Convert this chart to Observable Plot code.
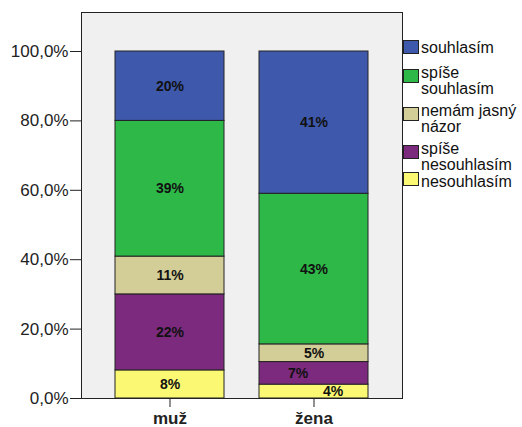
<!DOCTYPE html>
<html><head><meta charset="utf-8">
<script src="https://cdn.jsdelivr.net/npm/d3@7"></script>
<script src="https://cdn.jsdelivr.net/npm/@observablehq/plot@0.6"></script>
<style>
body{margin:0;background:#fff;}
#wrap{position:relative;width:522px;height:427px;font-family:"Liberation Sans",Arial,sans-serif;}
#wrap svg{position:absolute;left:0;top:0;}
.leg{position:absolute;left:421px;font-size:16px;line-height:15px;height:15px;color:#111;white-space:nowrap;}
.sw{position:absolute;left:403px;width:14px;height:12px;border:1px solid #222;}
</style></head><body><div id="wrap"></div>
<script>
// categories (x)
const genders = ["muž", "žena"];
// answers, bottom to top of the stack
const answers = ["nesouhlasím", "spíše nesouhlasím", "nemám jasný názor", "spíše souhlasím", "souhlasím"];
// series values (percent), same order as answers
const muzValues = [8.1, 21.9, 10.9, 39.1, 20.0];
const zenaValues = [4.0, 6.5, 5.1, 43.4, 41.0];
// bar labels
const muzLabels = ["8%", "22%", "11%", "39%", "20%"];
const zenaLabels = ["4%", "7%", "5%", "43%", "41%"];
// y tick values
const yTicks = [0, 0.2, 0.4, 0.6, 0.8, 1.0];
// legend order (top to bottom) and wrapped legend lines
const legendOrder = ["souhlasím", "spíše souhlasím", "nemám jasný názor", "spíše nesouhlasím", "nesouhlasím"];
const legendLines = [["souhlasím"], ["spíše", "souhlasím"], ["nemám jasný", "názor"], ["spíše", "nesouhlasím"], ["nesouhlasím"]];
const colors = ["#fbf873", "#7b2a7e", "#d3ce97", "#2eb848", "#3e58ac"];

const rows = [];
answers.forEach((a, i) => rows.push({gender: genders[0], answer: a, value: muzValues[i] / 100, label: muzLabels[i]}));
answers.forEach((a, i) => rows.push({gender: genders[1], answer: a, value: zenaValues[i] / 100, label: zenaLabels[i]}));

// label horizontal nudges (SPSS avoids overlaps in thin segments)
const nudge = {"žena|spíše nesouhlasím": -16, "žena|nesouhlasím": 19};
const key = d => d.gender + "|" + d.answer;
const textFor = dx => d => ((nudge[key(d)] || 0) === dx ? d.label : "");

const textMark = dx => Plot.text(rows, Plot.stackY({
  x: "gender", y: "value", z: "answer", text: textFor(dx),
  dx, fontSize: 14, fontWeight: "bold", fill: "#111"
}));

const chart = Plot.plot({
  width: 522, height: 427,
  marginLeft: 81, marginRight: 120, marginTop: 12, marginBottom: 29,
  style: {fontFamily: '"Liberation Sans", Arial, sans-serif', color: "#222", background: "transparent"},
  x: {domain: genders, paddingInner: 0.245, paddingOuter: 0.23, label: null},
  y: {domain: [0, 386 / 347], label: null},
  color: {domain: answers, range: colors},
  marks: [
    Plot.frame({fill: "#f0f0f0"}),
    Plot.barY(rows, Plot.stackY({x: "gender", y: "value", z: "answer", fill: "answer", stroke: "#222", strokeWidth: 1, inset: 0})),
    textMark(0), textMark(-16), textMark(19),
    Plot.frame({stroke: "#222"}),
    Plot.axisY({ticks: yTicks, tickFormat: d => (d * 100).toFixed(1).replace(".", ",") + "%", tickSize: 11, tickPadding: 2, fontSize: 17, label: null}),
    Plot.axisX({tickSize: 9, tickPadding: 4, fontSize: 17, fontWeight: "bold", label: null})
  ]
});

const wrap = document.getElementById("wrap");
wrap.appendChild(chart);

const swTops = [40, 69, 107, 145, 172];
const lineCenters = [[47], [72.5, 88.5], [110, 126], [148, 164], [181]];
legendOrder.forEach((a, i) => {
  const sw = document.createElement("div");
  sw.className = "sw";
  sw.style.top = swTops[i] + "px";
  sw.style.background = colors[answers.indexOf(a)];
  wrap.appendChild(sw);
  legendLines[i].forEach((line, j) => {
    const t = document.createElement("div");
    t.className = "leg";
    t.style.top = (lineCenters[i][j] - 7.5) + "px";
    t.textContent = line;
    wrap.appendChild(t);
  });
});
</script></body></html>
